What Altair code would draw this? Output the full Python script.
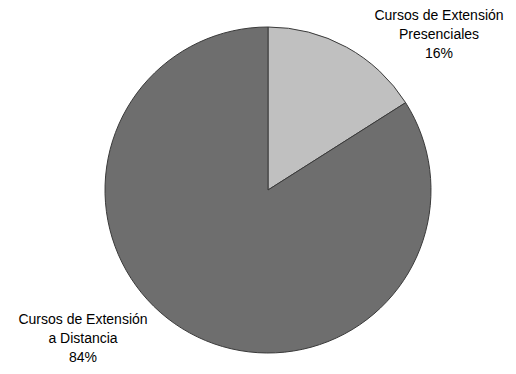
import altair as alt
import pandas as pd

categories = ["Cursos de Extensión Presenciales", "Cursos de Extensión a Distancia"]
values = [16, 84]
colors = ["#C0C0C0", "#6E6E6E"]
label_lines = [
    ["Cursos de Extensión", "Presenciales", "16%"],
    ["Cursos de Extensión", "a Distancia", "84%"],
]

W, H = 500, 358

df = pd.DataFrame({"cat": categories, "val": values, "ord": [0, 1]})

pie = alt.Chart(df).mark_arc(
    radius=163, stroke="#3A3A3A", strokeWidth=1
).encode(
    theta=alt.Theta("val:Q", stack=True),
    order=alt.Order("ord:Q"),
    color=alt.Color("cat:N", scale=alt.Scale(domain=categories, range=colors), legend=None),
    x=alt.value(260),
    y=alt.value(182),
)

lab_df = pd.DataFrame({
    "txt": ["\n".join(l) for l in label_lines],
    "lx": [431, 75],
    "ly": [12, 316],
})

labels = alt.Chart(lab_df).mark_text(
    font="Liberation Sans", fontSize=14, lineBreak="\n", lineHeight=19,
    align="center", baseline="alphabetic", color="#000000"
).encode(
    text="txt:N",
    x=alt.X("lx:Q", scale=alt.Scale(domain=[0, W], range=[0, W]), axis=None),
    y=alt.Y("ly:Q", scale=alt.Scale(domain=[0, H], range=[0, H]), axis=None),
)

chart = alt.layer(pie, labels).properties(
    width=W, height=H, autosize="none", padding=0
).configure_view(stroke=None)

chart.save("out.html", embed_options={"renderer": "svg", "actions": False})
